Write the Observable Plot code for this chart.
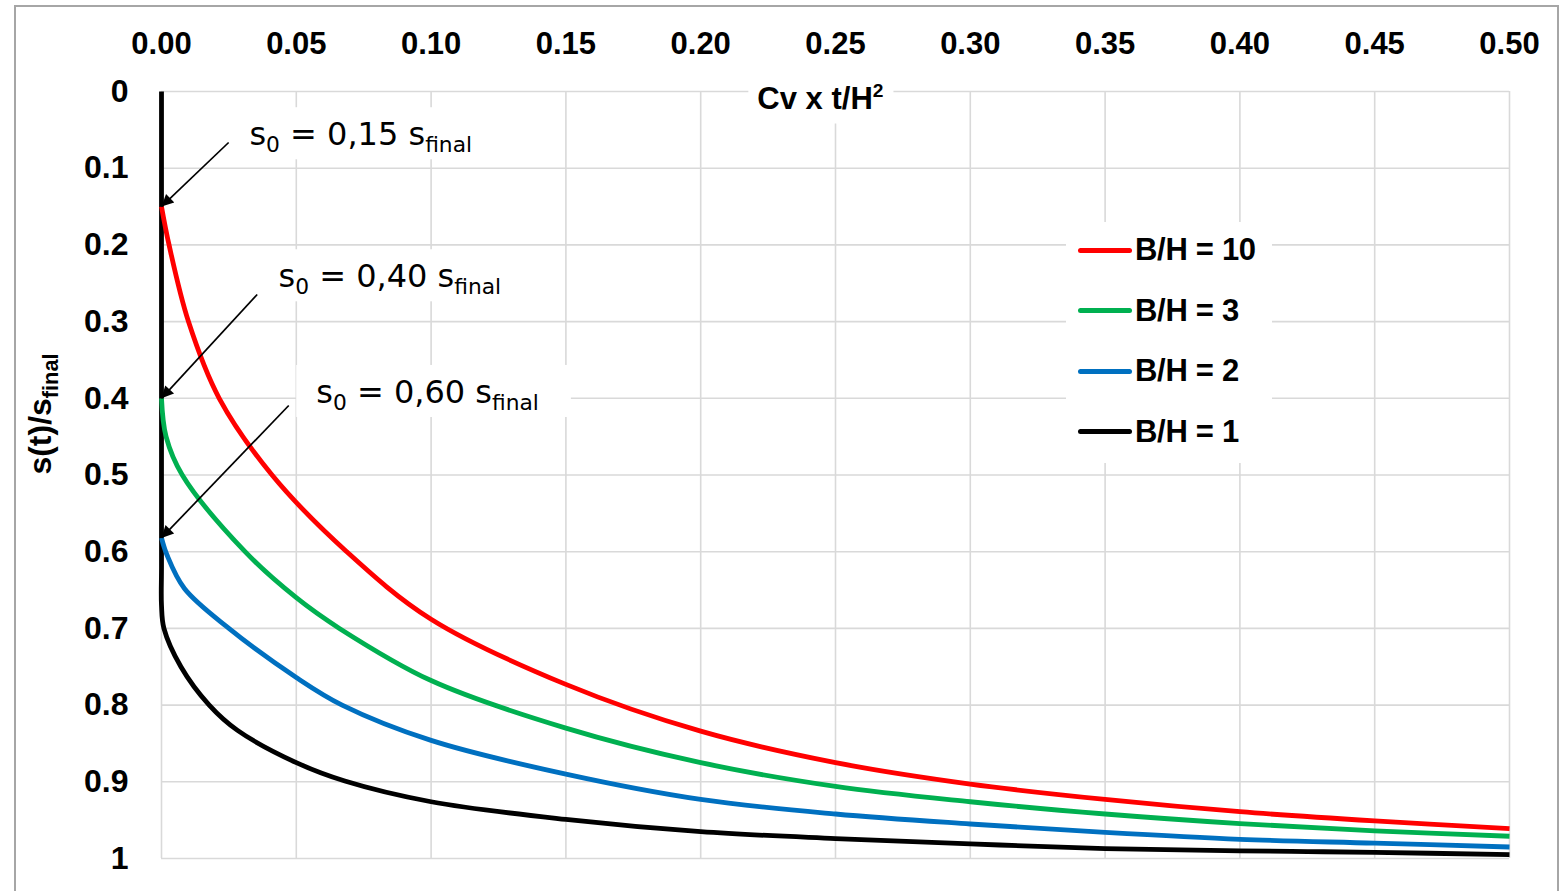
<!DOCTYPE html>
<html>
<head>
<meta charset="utf-8">
<script src="https://cdn.jsdelivr.net/npm/d3@7"></script>
<script src="https://cdn.jsdelivr.net/npm/@observablehq/plot@0.6"></script>
<style>
  html, body { margin: 0; padding: 0; background: #fff; }
  #wrap { position: relative; width: 1565px; height: 891px; overflow: hidden; background: #fff; }
  #frame { position: absolute; left: 14px; top: 5px; width: 1545px; height: 910px; border: 2px solid #a6a6a6; box-sizing: border-box; pointer-events: none; }
  #legend { position: absolute; left: 1066px; top: 222px; width: 206px; height: 241px; background: #fff; }
  .lrow { position: absolute; left: 0; height: 0; }
  .lsw { position: absolute; left: 12px; width: 54px; height: 5px; margin-top: -2.5px; border-radius: 2.5px; }
  .ltx { position: absolute; left: 69px; top: -18px; line-height: 36px; font: bold 31px "Liberation Sans", Arial, sans-serif; white-space: nowrap; color: #000; letter-spacing: -0.3px; }
</style>
</head>
<body>
<div id="wrap"><div id="legend"></div><div id="frame"></div></div>
<script>
// ---- axis ticks ----
const xTicks = [0, 0.05, 0.10, 0.15, 0.20, 0.25, 0.30, 0.35, 0.40, 0.45, 0.50];
const yTicks = [0, 0.1, 0.2, 0.3, 0.4, 0.5, 0.6, 0.7, 0.8, 0.9, 1];

// ---- series ----
const seriesNames  = ["B/H = 10", "B/H = 3", "B/H = 2", "B/H = 1"];
const seriesColors = ["#ff0000", "#00b050", "#0070c0", "#000000"];

const xBH10 = [0, 0.0028, 0.0100, 0.0214, 0.041, 0.0687, 0.10, 0.15, 0.20, 0.25, 0.30, 0.35, 0.40, 0.45, 0.50];
const yBH10 = [0.15, 0.20, 0.30, 0.40, 0.50, 0.60, 0.688, 0.773, 0.834, 0.875, 0.903, 0.923, 0.939, 0.951, 0.961];

const xBH3 = [0, 0.0017, 0.0077, 0.031, 0.05, 0.066, 0.10, 0.15, 0.20, 0.25, 0.30, 0.35, 0.40, 0.45, 0.50];
const yBH3 = [0.40, 0.45, 0.50, 0.60, 0.66, 0.70, 0.768, 0.830, 0.875, 0.906, 0.926, 0.942, 0.9545, 0.964, 0.971];

const xBH2 = [0, 0.002, 0.0085, 0.025, 0.05, 0.067, 0.10, 0.15, 0.20, 0.25, 0.30, 0.35, 0.40, 0.45, 0.50];
const yBH2 = [0.582, 0.604, 0.648, 0.70, 0.764, 0.80, 0.846, 0.89, 0.923, 0.942, 0.955, 0.966, 0.975, 0.980, 0.985];

const xBH1 = [0, 0, 0, 0, 0.0009, 0.0072, 0.0177, 0.0282, 0.05, 0.068, 0.10, 0.15, 0.20, 0.25, 0.30, 0.35, 0.40, 0.45, 0.50];
const yBH1 = [0, 0.5, 0.62, 0.67, 0.70, 0.75, 0.80, 0.833, 0.875, 0.899, 0.926, 0.949, 0.965, 0.974, 0.981, 0.987, 0.990, 0.992, 0.995];

// ---- annotations ----
const annoText  = ["s{_0} = 0,15 s{_final}", "s{_0} = 0,40 s{_final}", "s{_0} = 0,60 s{_final}"];
const annoTipY  = [0.15, 0.40, 0.582];
const annoTailX = [0.0249, 0.0355, 0.0472];
const annoTailY = [0.0665, 0.2647, 0.4094];
const annoTextX = [0.0326, 0.0434, 0.0574];
const annoTextY = [0.0567, 0.2419, 0.3927];

const xTitle = "Cv x t/H{^2}";
const xTitlePos = 0.2444;
const yTitle = "s(t)/s{_final}";
const yTitlePos = 0.4205;

// ---- build tables ----
const seriesX = [xBH10, xBH3, xBH2, xBH1];
const seriesY = [yBH10, yBH3, yBH2, yBH1];
const rows = [];
[3, 2, 1, 0].forEach(i => {
  seriesX[i].forEach((xv, j) => rows.push({series: seriesNames[i], x: xv, y: seriesY[i][j]}));
});
const annos = annoText.map((t, i) => ({
  text: t, tipX: 0, tipY: annoTipY[i], tailX: annoTailX[i], tailY: annoTailY[i], tx: annoTextX[i], ty: annoTextY[i]
}));

const chart = Plot.plot({
  width: 1565,
  height: 891,
  marginLeft: 161,
  marginRight: 56,
  marginTop: 91,
  marginBottom: 33,
  style: {fontFamily: "'Liberation Sans', Arial, sans-serif", fontSize: "31px", fontWeight: "bold", background: "transparent"},
  x: {domain: [0, 0.5]},
  y: {domain: [0, 1], reverse: true},
  color: {domain: seriesNames, range: seriesColors},
  marks: [
    Plot.gridX(xTicks, {stroke: "#d9d9d9", strokeOpacity: 1, strokeWidth: 1.6}),
    Plot.gridY(yTicks, {stroke: "#d9d9d9", strokeOpacity: 1, strokeWidth: 1.6}),
    Plot.axisX(xTicks, {anchor: "top", tickSize: 0, tickPadding: 38, tickFormat: d => d.toFixed(2), label: null, fontSize: 31, fontWeight: "bold"}),
    Plot.axisY(yTicks, {anchor: "left", tickSize: 0, tickPadding: 33, tickFormat: d => (d === 0 ? "0" : d === 1 ? "1" : d.toFixed(1)), label: null, fontSize: 32, fontWeight: "bold"}),
    Plot.text([xTitle], {frameAnchor: "top", x: () => xTitlePos, text: d => d, textAnchor: "middle", lineAnchor: "bottom", dy: 17, fontSize: 31, fontWeight: "bold", fill: "#000"}),
    Plot.text([yTitle], {frameAnchor: "left", y: () => yTitlePos, text: d => d, textAnchor: "middle", rotate: -90, dx: -121, fontSize: 32, fontWeight: "bold", fill: "#000"}),
    Plot.text(annos, {x: "tx", y: "ty", text: "text", textAnchor: "start", fontFamily: "'DejaVu Sans', Verdana, sans-serif", fontSize: 32, fontWeight: "normal", fill: "#000"}),
    Plot.line(rows, {x: "x", y: "y", z: "series", stroke: "series", strokeWidth: 4.8, curve: "catmull-rom", strokeLinecap: "butt", strokeLinejoin: "round"}),
    Plot.link(annos, {x1: "tailX", y1: "tailY", x2: "tipX", y2: "tipY", stroke: "#000", strokeWidth: 1.7})
  ]
});

document.getElementById("wrap").prepend(chart);

const svg = d3.select(chart);
svg.append("defs").append("marker")
  .attr("id", "ahead").attr("viewBox", "0 0 10 10").attr("refX", 10).attr("refY", 5)
  .attr("markerUnits", "userSpaceOnUse").attr("markerWidth", 19).attr("markerHeight", 12)
  .attr("orient", "auto")
  .append("path").attr("d", "M0,0L10,5L0,10z").attr("fill", "#000");
svg.selectAll('g[aria-label="link"] path').attr("marker-end", "url(#ahead)");

function richify(el) {
  const raw = el.textContent;
  if (!raw.includes("{")) return false;
  const size = parseFloat(el.getAttribute("font-size") || getComputedStyle(el).fontSize);
  const segs = [];
  const re = /\{([_^])([^}]*)\}/g;
  let last = 0, m;
  while ((m = re.exec(raw))) {
    if (m.index > last) segs.push({t: raw.slice(last, m.index), k: ""});
    segs.push({t: m[2], k: m[1]});
    last = re.lastIndex;
  }
  if (last < raw.length) segs.push({t: raw.slice(last), k: ""});
  const sel = d3.select(el);
  sel.text(null);
  let cur = 0;
  segs.forEach(s => {
    const target = s.k === "_" ? size * 0.22 : s.k === "^" ? -size * 0.38 : 0;
    const ts = sel.append("tspan").text(s.t);
    if (target - cur !== 0) ts.attr("dy", target - cur);
    if (s.k) ts.attr("font-size", size * (s.k === "_" ? 0.68 : 0.62));
    cur = target;
  });
  return true;
}

svg.selectAll('g[aria-label="text"] text').each(function () {
  const el = this;
  const isAnno = el.textContent.startsWith("s{_0}");
  const isXT = el.textContent.startsWith("Cv");
  richify(el);
  if (isAnno || isXT) {
    const bb = el.getBBox();
    const pad = isAnno ? {l: 20, r: 32, t: 8, b: 2} : {l: 9, r: 10, t: 8, b: 8};
    d3.select(el.parentNode).insert("rect", () => el)
      .attr("transform", el.getAttribute("transform"))
      .attr("x", bb.x - pad.l).attr("y", bb.y - pad.t)
      .attr("width", bb.width + pad.l + pad.r).attr("height", bb.height + pad.t + pad.b)
      .attr("fill", "#fff").attr("stroke", "none");
  }
});

// legend
const leg = d3.select("#legend");
seriesNames.forEach((n, i) => {
  const r = leg.append("div").attr("class", "lrow").style("top", (28 + i * 60.5) + "px");
  r.append("div").attr("class", "lsw").style("background", seriesColors[i]);
  r.append("div").attr("class", "ltx").text(n);
});
</script>
</body>
</html>
